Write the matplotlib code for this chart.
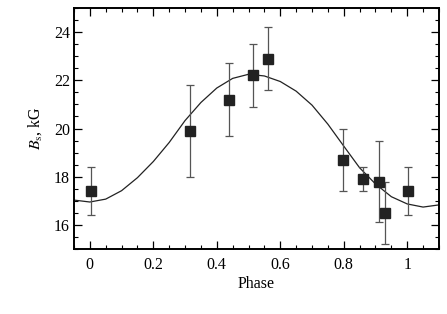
import numpy as np
import matplotlib
matplotlib.use('Agg')
import matplotlib.pyplot as plt
from matplotlib.ticker import MultipleLocator

plt.rcParams['font.family'] = ['Liberation Serif', 'DejaVu Serif']
plt.rcParams['mathtext.fontset'] = 'stix'

# measured points
phase = [0.003, 0.315, 0.437, 0.514, 0.56, 0.799, 0.862, 0.911, 0.931, 1.002]
bs = [17.4, 19.9, 21.2, 22.2, 22.9, 18.7, 17.9, 17.8, 16.5, 17.4]
bs_err = [1.0, 1.9, 1.5, 1.3, 1.3, 1.3, 0.5, 1.7, 1.3, 1.0]

# fitted curve
curve_phase = [-0.05, 0.0, 0.05, 0.10, 0.15, 0.20, 0.25, 0.30, 0.35, 0.40,
               0.45, 0.50, 0.55, 0.60, 0.65, 0.70, 0.75, 0.80, 0.85, 0.90,
               0.95, 1.00, 1.05, 1.10]
curve_bs = [17.03, 16.95, 17.07, 17.42, 17.96, 18.63, 19.42, 20.33, 21.08, 21.68,
            22.08, 22.25, 22.18, 21.95, 21.55, 20.97, 20.18, 19.27, 18.37, 17.7,
            17.17, 16.87, 16.74, 16.83]

fig = plt.figure(figsize=(4.47, 3.14), dpi=100)
ax = fig.add_axes([0.1655, 0.207, 0.8165, 0.7675])

ax.plot(curve_phase, curve_bs, color='#222222', lw=0.9)
ax.errorbar(phase, bs, yerr=bs_err, fmt='s', color='#222222', ms=6.7,
            ecolor='#555555', elinewidth=0.9, capsize=3.2, capthick=0.9)

ax.set_xlim(-0.05, 1.1)
ax.set_ylim(15, 25)
ax.xaxis.set_major_locator(MultipleLocator(0.2))
ax.xaxis.set_minor_locator(MultipleLocator(0.05))
ax.yaxis.set_major_locator(MultipleLocator(2))
ax.yaxis.set_minor_locator(MultipleLocator(0.5))
ax.set_xticks([0, 0.2, 0.4, 0.6, 0.8, 1.0])
ax.set_xticklabels(['0', '0.2', '0.4', '0.6', '0.8', '1'])

ax.tick_params(which='both', direction='in', top=True, right=True, labelsize=11.5)
ax.tick_params(which='major', length=5.5, width=0.9)
ax.tick_params(axis='x', which='major', pad=6)
ax.tick_params(axis='y', which='major', pad=3)
ax.tick_params(which='minor', length=3, width=0.8)
for s in ax.spines.values():
    s.set_linewidth(1.4)

ax.set_xlabel('Phase', fontsize=11.5, labelpad=2)
ax.set_ylabel(r'$B_\mathrm{s}$, kG', fontsize=11.5, labelpad=7)

fig.savefig('out.png', dpi=100)
